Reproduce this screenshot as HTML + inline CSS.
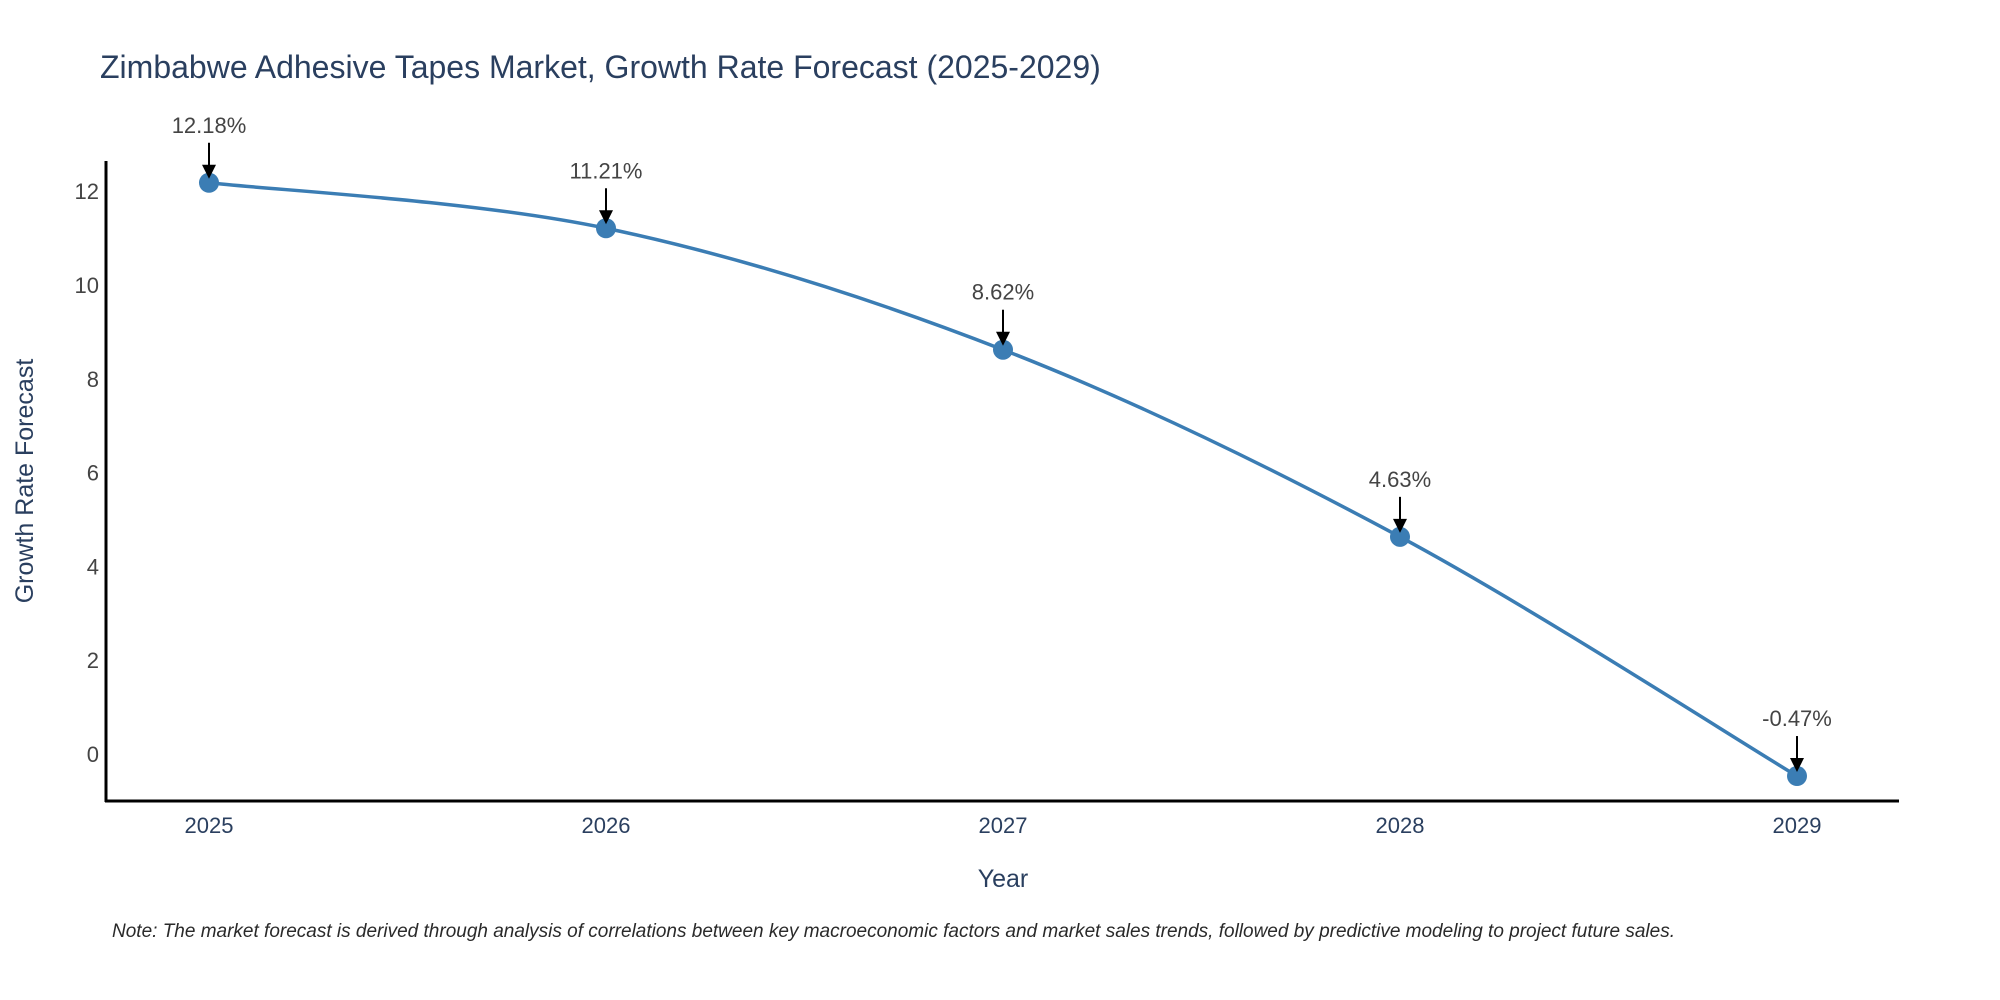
<!DOCTYPE html>
<html><head><meta charset="utf-8"><style>
body{margin:0;background:#fff;}
svg{display:block;font-family:"Liberation Sans",sans-serif;}
</style></head><body>
<svg id="chart" width="2000" height="1000">
<text x="100" y="78" font-size="32" fill="#2a3f5f">Zimbabwe Adhesive Tapes Market, Growth Rate Forecast (2025-2029)</text>
<line x1="106" y1="161" x2="106" y2="802" stroke="#000" stroke-width="3"/>
<line x1="105" y1="801" x2="1899" y2="801" stroke="#000" stroke-width="3"/>
<g id="yticks"></g><g id="xticks"></g>
<text x="1003" y="887" font-size="25" fill="#2a3f5f" text-anchor="middle">Year</text>
<text transform="translate(33,481) rotate(-90)" font-size="25" fill="#2a3f5f" text-anchor="middle">Growth Rate Forecast</text>
<path id="line" fill="none" stroke="#3b7db4" stroke-width="3.5"/>
<g id="marks"></g>
<text x="112" y="937" font-size="19" font-style="italic" fill="#2a2a2a">Note: The market forecast is derived through analysis of correlations between key macroeconomic factors and market sales trends, followed by predictive modeling to project future sales.</text>
</svg>
<script>
const years = [2025, 2026, 2027, 2028, 2029];
const values = [12.18, 11.21, 8.62, 4.63, -0.47];
const labels = ["12.18%", "11.21%", "8.62%", "4.63%", "-0.47%"];
const yTicks = [0, 2, 4, 6, 8, 10, 12];
const NS = "http://www.w3.org/2000/svg";
function xs(v){return 209 + (v - 2025) * 397;}
function ys(v){return 754 - v * 46.9;}
function mk(tag, attrs, parent){const e=document.createElementNS(NS,tag);for(const k in attrs)e.setAttribute(k,attrs[k]);parent.appendChild(e);return e;}
const yg=document.getElementById('yticks'), xg=document.getElementById('xticks'), mg=document.getElementById('marks');
yTicks.forEach(t=>{
  const e=mk('text',{x:99,y:ys(t)+8,'font-size':22,fill:'#444','text-anchor':'end'},yg);
  
  
  e.textContent=t;
});
years.forEach(y=>{
  const e=mk('text',{x:xs(y),y:833,'font-size':22,fill:'#2a3f5f','text-anchor':'middle'},xg);
  
  
  e.textContent=y;
});
const P=years.map((y,i)=>[xs(y),ys(values[i])]);
let d=`M${P[0][0]},${P[0][1]}`;
for(let i=0;i<P.length-1;i++){
  const p0=P[i-1]||P[i],p1=P[i],p2=P[i+1],p3=P[i+2]||P[i+1];
  const c1=[p1[0]+(p2[0]-p0[0])/6,p1[1]+(p2[1]-p0[1])/6];
  const c2=[p2[0]-(p3[0]-p1[0])/6,p2[1]-(p3[1]-p1[1])/6];
  d+=` C${c1[0]},${c1[1]} ${c2[0]},${c2[1]} ${p2[0]},${p2[1]}`;
}
document.getElementById('line').setAttribute('d',d);
P.forEach((p,i)=>{
  const c=mk('circle',{cx:p[0],cy:p[1],r:10,fill:'#3b7db4'},mg);
  
  
  const l=mk('line',{x1:p[0],y1:p[1]-40,x2:p[0],y2:p[1]-14,stroke:'#000','stroke-width':2},mg);
  
  
  const h=mk('polygon',{points:`${p[0]-7},${p[1]-18} ${p[0]+7},${p[1]-18} ${p[0]},${p[1]-4}`,fill:'#000'},mg);
  
  
  const t=mk('text',{x:p[0],y:p[1]-50,'font-size':22,fill:'#444','text-anchor':'middle'},mg);
  
  
  t.textContent=labels[i];
});
</script>
</body></html>
